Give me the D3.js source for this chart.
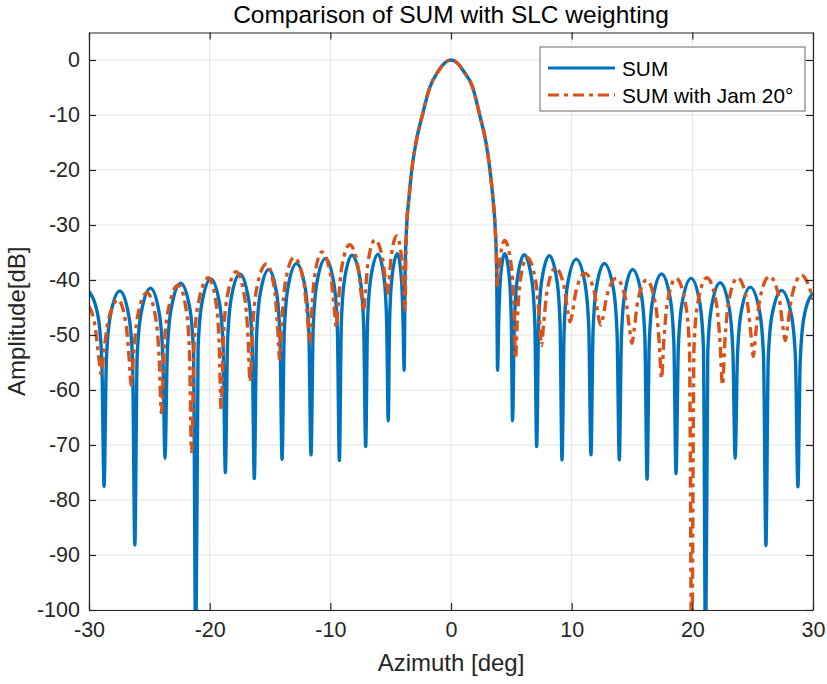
<!DOCTYPE html>
<html>
<head>
<meta charset="utf-8">
<script src="https://cdn.jsdelivr.net/npm/d3@7"></script>
<style>
  html, body { margin: 0; padding: 0; background: #ffffff; }
  svg { display: block; font-family: "Liberation Sans", Arial, Helvetica, sans-serif; }
</style>
</head>
<body>
<svg id="chart" width="827" height="684"></svg>
<script>
// ---------------- data ----------------
const chartTitle = "Comparison of SUM with SLC weighting";
const xLabel = "Azimuth [deg]";
const yLabel = "Amplitude[dB]";
const seriesNames = ["SUM", "SUM with Jam 20\u00B0"];
const xTicks = [-30, -20, -10, 0, 10, 20, 30];
const yTicks = [-100, -90, -80, -70, -60, -50, -40, -30, -20, -10, 0];

// SUM pattern: [azimuth deg, amplitude dB]
const sumPoints = [
  [-30,-42.1],
  [-29.25,-46.6],[-28.94,-54.6],[-28.75,-77.5],
  [-28.56,-54.5],[-28.23,-46.5],[-27.45,-42.0],[-26.7,-46.5],[-26.39,-54.5],[-26.2,-88.2],
  [-26.01,-54.0],[-25.68,-46.0],[-24.9,-41.5],[-24.18,-46.0],[-23.88,-54.0],[-23.7,-72.4],
  [-23.51,-53.1],[-23.18,-45.1],[-22.4,-40.6],[-21.65,-45.1],[-21.34,-53.1],[-21.15,-110],
  [-20.96,-52.3],[-20.65,-44.3],[-19.9,-39.8],[-19.18,-44.3],[-18.88,-52.3],[-18.7,-75.0],
  [-18.52,-51.4],[-18.22,-43.4],[-17.5,-38.9],[-16.78,-43.4],[-16.48,-51.4],[-16.3,-76.1],
  [-16.12,-50.6],[-15.82,-42.6],[-15.1,-38.1],[-14.44,-42.6],[-14.17,-50.6],[-14.0,-72.6],
  [-13.82,-49.5],[-13.52,-41.5],[-12.8,-37.0],[-12.08,-41.5],[-11.78,-49.5],[-11.6,-71.8],
  [-11.42,-48.6],[-11.12,-40.6],[-10.4,-36.1],[-9.71,-40.6],[-9.42,-48.6],[-9.25,-72.8],
  [-9.09,-48.0],[-8.83,-40.0],[-8.2,-35.5],[-7.52,-40.0],[-7.24,-48.0],[-7.07,-70.3],
  [-6.92,-47.8],[-6.66,-39.8],[-6.05,-35.3],[-5.54,-39.8],[-5.33,-47.8],[-5.2,-65.6],
  [-5.09,-47.7],[-4.9,-39.7],[-4.45,-35.2],[-4.11,-39.7],[-3.97,-47.7],[-3.88,-56.4],
  [-3.8,-38],[-3.67,-30],[-3.48,-25],[-3.25,-20],[-2.9,-15],[-2.37,-10],[-1.76,-5],[-1.04,-2],[-0.5,-0.5],
  [0,0],
  [0.5,-0.5],[1.03,-2],[1.8,-5],[2.38,-10],[2.9,-15],[3.23,-20],[3.47,-25],[3.65,-30],[3.78,-38],[3.86,-56.4],
  [3.95,-47.7],[4.1,-39.7],[4.45,-35.2],[4.84,-39.7],[5.0,-47.7],[5.1,-65.6],
  [5.25,-47.9],[5.49,-39.9],[6.07,-35.4],[6.69,-39.9],[6.95,-47.9],[7.1,-70.3],
  [7.26,-48.1],[7.52,-40.1],[8.15,-35.6],[8.78,-40.1],[9.04,-48.1],[9.2,-72.7],
  [9.38,-48.7],[9.67,-40.7],[10.38,-36.2],[11.11,-40.7],[11.42,-48.7],[11.6,-71.8],
  [11.77,-49.5],[12.04,-41.5],[12.7,-37.0],[13.45,-41.5],[13.76,-49.5],[13.95,-72.7],
  [14.12,-50.6],[14.39,-42.6],[15.05,-38.1],[15.77,-42.6],[16.07,-50.6],[16.25,-76.2],
  [16.43,-51.4],[16.73,-43.4],[17.45,-38.9],[18.17,-43.4],[18.47,-51.4],[18.65,-75.2],
  [18.84,-52.2],[19.15,-44.2],[19.9,-39.7],[20.62,-44.2],[20.92,-52.2],[21.1,-110],
  [21.28,-53.0],[21.58,-45.0],[22.3,-40.5],[23.05,-45.0],[23.36,-53.0],[23.55,-72.4],
  [23.74,-53.8],[24.05,-45.8],[24.8,-41.3],[25.58,-45.8],[25.9,-53.8],[26.1,-88.3],
  [26.29,-54.4],[26.6,-46.4],[27.4,-41.9],[28.21,-46.4],[28.55,-54.4],[28.75,-77.6],
  [28.94,-54.8],[29.25,-46.8],[30,-42.3]
];

// SUM with jammer at 20 deg: [azimuth deg, amplitude dB]
const jamPoints = [
  [-30,-44.8],[-29.5,-48.4],[-29.19,-54.1],[-29.0,-57.1],
  [-28.79,-53.6],[-28.44,-47.7],[-27.6,-43.6],[-26.94,-47.9],[-26.67,-54.4],[-26.5,-59.1],
  [-26.31,-53.5],[-25.98,-46.7],[-25.2,-42.3],[-24.48,-46.8],[-24.18,-54.4],[-24.0,-64.1],
  [-23.79,-53.1],[-23.44,-45.5],[-22.6,-40.9],[-21.94,-45.5],[-21.67,-53.4],[-21.5,-71.2],
  [-21.29,-52.1],[-20.94,-44.2],[-20.1,-39.6],[-19.47,-44.2],[-19.21,-51.8],[-19.05,-63.6],
  [-18.86,-50.7],[-18.55,-43.1],[-17.8,-38.5],[-17.11,-43.0],[-16.82,-50.3],[-16.65,-58.5],
  [-16.45,-49.2],[-16.11,-41.6],[-15.3,-37.1],[-14.64,-41.5],[-14.37,-48.5],[-14.2,-54.4],
  [-14.02,-47.5],[-13.72,-40.3],[-13.0,-35.9],[-12.22,-40.2],[-11.9,-46.7],[-11.7,-51.4],
  [-11.55,-46.0],[-11.3,-39.3],[-10.7,-34.9],[-9.98,-39.0],[-9.68,-45.0],[-9.5,-48.5],
  [-9.34,-44.2],[-9.06,-37.8],[-8.4,-33.6],[-7.71,-37.5],[-7.42,-42.9],[-7.25,-45.6],
  [-7.11,-42.5],[-6.87,-36.7],[-6.3,-32.7],[-5.67,-36.1],[-5.41,-40.6],[-5.25,-42.4],
  [-5.14,-40.4],[-4.95,-35.6],[-4.5,-32.0],[-4.09,-36.1],[-3.91,-42.0],[-3.81,-45.5],
  [-3.74,-36],[-3.67,-30],[-3.48,-25],[-3.25,-20],[-2.9,-15],[-2.37,-10],[-1.76,-5],[-1.04,-2],[-0.5,-0.5],
  [0,0],
  [0.5,-0.5],[1.03,-2],[1.8,-5],[2.38,-10],[2.9,-15],[3.23,-20],[3.47,-25],[3.65,-30],[3.75,-35],[3.84,-41],
  [3.93,-39.7],[4.08,-35.8],[4.45,-32.8],[4.99,-37.3],[5.22,-44.9],[5.35,-54.2],
  [5.49,-47.5],[5.73,-40.3],[6.3,-35.9],[7.02,-40.2],[7.32,-46.9],[7.5,-51.9],
  [7.67,-48.1],[7.96,-42.0],[8.65,-37.8],[9.38,-41.3],[9.68,-45.8],[9.86,-47.6],
  [10.05,-46.1],[10.36,-42.0],[11.1,-38.8],[11.88,-42.2],[12.2,-46.5],[12.4,-48.2],
  [12.6,-46.8],[12.92,-42.8],[13.7,-39.7],[14.48,-43.6],[14.8,-48.9],[15.0,-51.5],
  [15.18,-49.0],[15.48,-43.8],[16.2,-40.0],[16.95,-44.4],[17.26,-51.5],[17.45,-57.9],
  [17.63,-51.3],[17.93,-44.1],[18.65,-39.7],[19.43,-44.3],[19.76,-52.3],[19.95,-110],
  [20.14,-52.2],[20.45,-44.2],[21.2,-39.6],[21.98,-44.1],[22.3,-51.4],[22.5,-59.1],
  [22.69,-51.4],[23.0,-44.1],[23.75,-39.6],[24.53,-43.8],[24.86,-50.0],[25.05,-53.9],
  [25.25,-49.8],[25.59,-43.5],[26.4,-39.3],[27.18,-43.1],[27.5,-48.4],[27.7,-51.0],
  [27.9,-48.3],[28.24,-43.0],[29.05,-39.1],[29.6,-40.8],[30,-43.6]
];

// ---------------- layout ----------------
const W = 827, H = 684;
const M = { left: 89, right: 14, top: 32.5, bottom: 74 };
const PW = W - M.left - M.right;
const PH = H - M.top - M.bottom;
const blue = "#0072BD", orange = "#D95319", axisColor = "#262626";

const svg = d3.select("#chart");
svg.append("rect").attr("width", W).attr("height", H).attr("fill", "#fff");

const x = d3.scaleLinear().domain([-30, 30]).range([0, PW]);
const y = d3.scaleLinear().domain([-100, 5]).range([PH, 0]);

const g = svg.append("g").attr("transform", `translate(${M.left},${M.top})`);

g.append("defs").append("clipPath").attr("id", "plotclip")
  .append("rect").attr("x", 0).attr("y", 0).attr("width", PW).attr("height", PH);

// grid
const grid = g.append("g").attr("class", "grid");
grid.selectAll("line.gx").data(xTicks).join("line")
  .attr("x1", d => x(d)).attr("x2", d => x(d)).attr("y1", 0).attr("y2", PH)
  .attr("stroke", "#e3e3e3").attr("stroke-width", 1);
grid.selectAll("line.gy").data(yTicks).join("line")
  .attr("y1", d => y(d)).attr("y2", d => y(d)).attr("x1", 0).attr("x2", PW)
  .attr("stroke", "#e3e3e3").attr("stroke-width", 1);

// lines
const line = d3.line().x(d => x(d[0])).y(d => y(d[1])).curve(d3.curveMonotoneX);
const plot = g.append("g").attr("clip-path", "url(#plotclip)");
plot.append("path").datum(sumPoints).attr("d", line)
  .attr("fill", "none").attr("stroke", blue).attr("stroke-width", 3.4)
  .attr("stroke-linejoin", "round");
plot.append("path").datum(jamPoints).attr("d", line)
  .attr("fill", "none").attr("stroke", orange).attr("stroke-width", 3.4)
  .attr("stroke-dasharray", "11,5,4,5");

// axes
const fmt = d => String(d);
const tickFont = 21.5;
function styleAxis(sel) {
  sel.select(".domain").attr("stroke", axisColor).attr("stroke-width", 1.2);
  sel.selectAll(".tick line").attr("stroke", axisColor).attr("stroke-width", 1.2);
  sel.selectAll(".tick text").attr("fill", "#262626").style("font-size", tickFont + "px")
    .style("font-family", '"Liberation Sans", Arial, sans-serif');
}
const ax = g.append("g").attr("transform", `translate(0,${PH})`)
  .call(d3.axisBottom(x).tickValues(xTicks).tickFormat(fmt).tickSizeInner(-7).tickSizeOuter(0).tickPadding(12));
styleAxis(ax);
const axTop = g.append("g")
  .call(d3.axisTop(x).tickValues(xTicks).tickFormat("").tickSizeInner(-7).tickSizeOuter(0));
styleAxis(axTop);
const ay = g.append("g")
  .call(d3.axisLeft(y).tickValues(yTicks).tickFormat(fmt).tickSizeInner(-7).tickSizeOuter(0).tickPadding(9));
styleAxis(ay);
const ayR = g.append("g").attr("transform", `translate(${PW},0)`)
  .call(d3.axisRight(y).tickValues(yTicks).tickFormat("").tickSizeInner(-7).tickSizeOuter(0));
styleAxis(ayR);

// titles
svg.append("text").attr("x", M.left + PW / 2).attr("y", 23)
  .attr("text-anchor", "middle").style("font-size", "24.5px").attr("fill", "#000")
  .text(chartTitle);
svg.append("text").attr("x", M.left + PW / 2).attr("y", 671)
  .attr("text-anchor", "middle").style("font-size", "24px").attr("fill", "#262626")
  .text(xLabel);
svg.append("text").attr("transform", `translate(25,${M.top + PH / 2}) rotate(-90)`)
  .attr("text-anchor", "middle").style("font-size", "24px").attr("fill", "#262626")
  .text(yLabel);

// legend
const lg = svg.append("g").attr("transform", "translate(540,47)");
lg.append("rect").attr("width", 265).attr("height", 64)
  .attr("fill", "#fff").attr("stroke", "#6b6b6b").attr("stroke-width", 1);
const legendItems = [
  { name: seriesNames[0], color: blue, dash: null },
  { name: seriesNames[1], color: orange, dash: "11,5,4,5" }
];
legendItems.forEach((it, i) => {
  const yy = 21 + i * 27;
  lg.append("line").attr("x1", 8).attr("x2", 75).attr("y1", yy).attr("y2", yy)
    .attr("stroke", it.color).attr("stroke-width", 3)
    .attr("stroke-dasharray", it.dash);
  lg.append("text").attr("x", 82).attr("y", yy + 7.5)
    .style("font-size", "20.8px").attr("fill", "#000").text(it.name);
});
</script>
</body>
</html>
